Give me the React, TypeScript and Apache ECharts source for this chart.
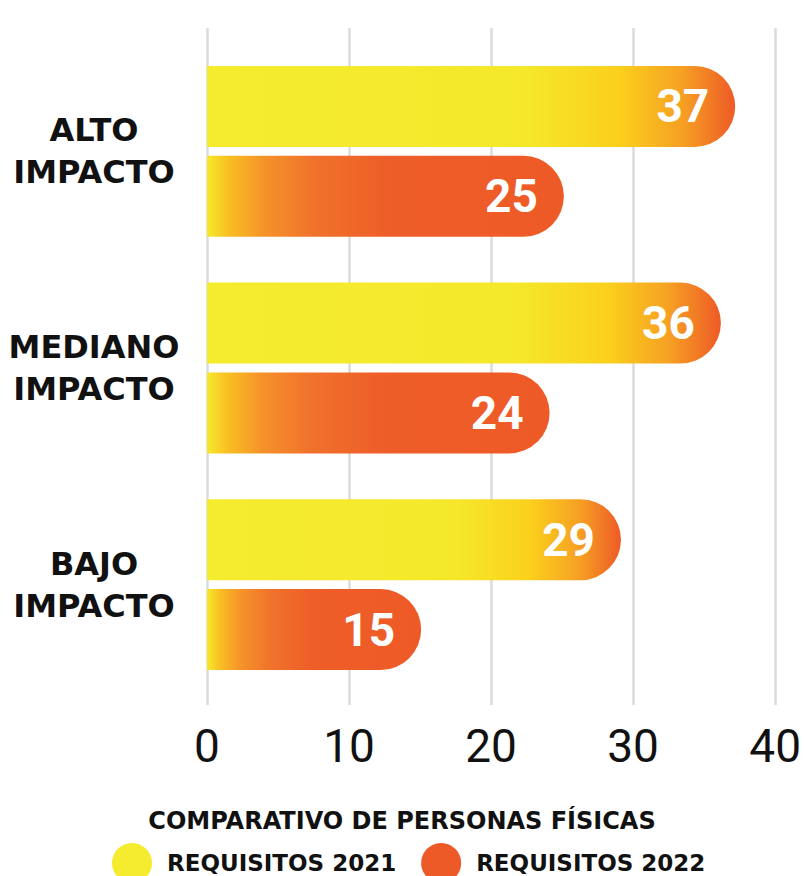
import React, { useEffect, useRef } from "react";
import * as echarts from "echarts";

const categories = ["ALTO IMPACTO", "MEDIANO IMPACTO", "BAJO IMPACTO"];
const seriesNames = ["REQUISITOS 2021", "REQUISITOS 2022"];
const values2021 = [37, 36, 29];
const values2022 = [25, 24, 15];
const xTicks = [0, 10, 20, 30, 40];
const titleText = "COMPARATIVO DE PERSONAS FÍSICAS";

export default function App() {
  const ref = useRef<HTMLDivElement>(null);
  useEffect(() => {
    document.body.style.margin = "0";
    if (!ref.current) return;
    const chart = echarts.init(ref.current, null, { renderer: "svg" });
    const grad2021 = new echarts.graphic.LinearGradient(0, 0, 1, 0, [
      { offset: 0, color: "#F5EC2F" },
      { offset: 0.6, color: "#F5E82B" },
      { offset: 0.78, color: "#FBD01C" },
      { offset: 0.9, color: "#F6A023" },
      { offset: 1, color: "#EE5A27" },
    ]);
    const grad2022 = new echarts.graphic.LinearGradient(0, 0, 1, 0, [
      { offset: 0, color: "#F6E92C" },
      { offset: 0.06, color: "#F9BF22" },
      { offset: 0.16, color: "#F5922A" },
      { offset: 0.3, color: "#F0722B" },
      { offset: 0.5, color: "#EE5E28" },
      { offset: 1, color: "#EE5A27" },
    ]);
    const fam = "Roboto, 'Noto Sans', sans-serif";
    const heavy = "'DejaVu Sans', sans-serif";
    const labelStyle = {
      show: true,
      position: "insideRight",
      distance: 26,
      color: "#ffffff",
      fontSize: 46,
      fontWeight: "bold",
      fontFamily: fam,
    };
    chart.setOption({
      animation: false,
      backgroundColor: "#ffffff",
      title: {
        text: titleText,
        left: "center",
        top: 804,
        textStyle: { fontSize: 24, fontWeight: "bold", color: "#111111", fontFamily: heavy },
      },
      legend: {
        top: 838,
        left: 107,
        icon: "circle",
        itemWidth: 40,
        itemHeight: 40,
        itemGap: 25,
        textStyle: { fontSize: 23, fontWeight: "bold", color: "#111111", fontFamily: heavy, padding: [4, 0, 0, 10] },
        data: [
          { name: seriesNames[0], itemStyle: { color: "#F5EC2F" } },
          { name: seriesNames[1], itemStyle: { color: "#EE5A27" } },
        ],
      },
      grid: [
        { left: 207, right: 26, top: 43, bottom: 183 },
        { left: 207, right: 26, top: 28, bottom: 171 },
      ],
      xAxis: [
        {
          gridIndex: 0,
          type: "value",
          min: 0,
          max: 40,
          interval: 10,
          show: false,
        },
        {
          gridIndex: 1,
          type: "value",
          min: 0,
          max: 40,
          interval: 10,
          data: xTicks,
          axisLine: { show: false },
          axisTick: { show: false },
          splitLine: { show: true, lineStyle: { color: "#D9DBDC", width: 2.5 } },
          axisLabel: { fontSize: 46, color: "#111111", fontFamily: fam, margin: 18 },
        },
      ],
      yAxis: [
        {
          gridIndex: 0,
          type: "category",
          inverse: true,
          data: categories,
          axisLine: { show: false },
          axisTick: { show: false },
          splitLine: { show: false },
          axisLabel: {
            formatter: (v: string) => v.replace(" ", "\n"),
            align: "center",
            margin: 113,
            fontSize: 32,
            lineHeight: 42,
            fontWeight: "bold",
            color: "#111111",
            fontFamily: heavy,
          },
        },
        { gridIndex: 1, type: "value", show: false, min: 0, max: 1 },
      ],
      series: [
        {
          name: seriesNames[0],
          type: "bar",
          xAxisIndex: 0,
          yAxisIndex: 0,
          data: values2021,
          barWidth: 81,
          barGap: "11%",
          itemStyle: { color: grad2021, borderRadius: [0, 41, 41, 0] },
          label: labelStyle,
        },
        {
          name: seriesNames[1],
          type: "bar",
          xAxisIndex: 0,
          yAxisIndex: 0,
          data: values2022,
          barWidth: 81,
          barGap: "11%",
          itemStyle: { color: grad2022, borderRadius: [0, 41, 41, 0] },
          label: labelStyle,
        },
      ],
    });
    return () => chart.dispose();
  }, []);
  return <div ref={ref} style={{ width: 804, height: 876 }} />;
}
